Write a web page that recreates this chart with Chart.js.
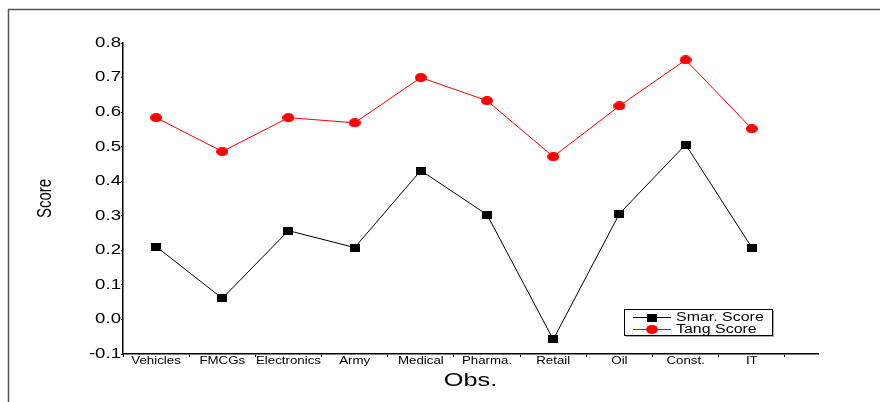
<!DOCTYPE html>
<html>
<head>
<meta charset="utf-8">
<script src="https://cdn.jsdelivr.net/npm/chart.js@4.4.0/dist/chart.umd.min.js"></script>
<style>
html,body{margin:0;padding:0;background:#fff;}
#wrap{width:880px;height:402px;position:relative;}
</style>
</head>
<body>
<div id="wrap"><canvas id="c" width="880" height="402"></canvas></div>
<script>
const categories = ['Vehicles','FMCGs','Electronics','Army','Medical','Pharma.','Retail','Oil','Const.','IT'];
const smarScore = [0.211, 0.061, 0.257, 0.208, 0.431, 0.303, -0.058, 0.306, 0.506, 0.208];
const tangScore = [0.584, 0.486, 0.584, 0.569, 0.700, 0.633, 0.471, 0.618, 0.751, 0.552];
const yTicks = [-0.1, 0.0, 0.1, 0.2, 0.3, 0.4, 0.5, 0.6, 0.7, 0.8];

const FONT = "'Liberation Sans', Arial, sans-serif";
const TEXT_STRETCH = 1.33;

// marker images (stretched like the original figure)
function makeMarker(w, h, color, shape) {
  const c = document.createElement('canvas');
  c.width = w; c.height = h;
  const g = c.getContext('2d');
  g.fillStyle = color;
  if (shape === 'rect') g.fillRect(0, 0, w, h);
  else { g.beginPath(); g.ellipse(w / 2, h / 2, w / 2, h / 2, 0, 0, Math.PI * 2); g.fill(); }
  return c;
}
const squareMarker = makeMarker(10, 8, '#000', 'rect');
const ellipseMarker = makeMarker(12, 9, '#ff0000', 'ellipse');

const stretchPlugin = {
  id: 'stretchText',
  beforeInit(chart) {
    const ctx = chart.ctx;
    if (ctx.__patched) return;
    const orig = ctx.fillText.bind(ctx);
    ctx.fillText = function (text, x, y, maxW) {
      const m = ctx.getTransform();
      const p = m.transformPoint(new DOMPoint(x, y));
      const S = new DOMMatrix().translate(p.x, p.y).scale(TEXT_STRETCH, 1).translate(-p.x, -p.y);
      ctx.setTransform(S.multiply(m));
      orig(text, x, y);
      ctx.setTransform(m);
    };
    ctx.__patched = true;
  }
};

const framePlugin = {
  id: 'frame',
  beforeDraw(chart) {
    const ctx = chart.ctx;
    ctx.save();
    ctx.fillStyle = '#fff';
    ctx.fillRect(0, 0, chart.width, chart.height);
    ctx.strokeStyle = '#555';
    ctx.lineWidth = 1.5;
    ctx.strokeRect(8.5, 9.5, 1000, 1000);
    ctx.restore();
  }
};

const legendPlugin = {
  id: 'boxLegend',
  afterDraw(chart) {
    const ctx = chart.ctx;
    const x0 = 624, y0 = 309, w = 148, h = 26;
    ctx.save();
    ctx.fillStyle = '#aaa';
    ctx.fillRect(x0 + 2, y0 + 2, w, h);
    ctx.fillStyle = '#fff';
    ctx.fillRect(x0, y0, w, h);
    ctx.strokeStyle = '#000';
    ctx.lineWidth = 1;
    ctx.strokeRect(x0 + 0.5, y0 + 0.5, w, h);
    const rows = [317, 329];
    chart.data.datasets.forEach((ds, i) => {
      const y = rows[i];
      ctx.strokeStyle = ds.borderColor;
      ctx.lineWidth = 1;
      ctx.beginPath();
      ctx.moveTo(633, y + 0.5);
      ctx.lineTo(671, y + 0.5);
      ctx.stroke();
      const img = ds.pointStyle;
      ctx.drawImage(img, 652 - img.width / 2, y + 0.5 - img.height / 2);
      ctx.fillStyle = '#000';
      ctx.font = '12px ' + FONT;
      ctx.textBaseline = 'middle';
      ctx.textAlign = 'left';
      ctx.fillText(ds.label, 676, y + 1);
    });
    ctx.restore();
  }
};

const xTickValues = [];
for (let v = 0.5; v <= 11; v += 0.5) xTickValues.push(v);

new Chart(document.getElementById('c'), {
  type: 'line',
  data: {
    datasets: [
      {
        label: 'Smar. Score',
        data: smarScore.map((v, i) => ({x: i + 1, y: v})),
        borderColor: '#000',
        backgroundColor: '#000',
        borderWidth: 1,
        pointStyle: squareMarker,
        pointRadius: 5,
        tension: 0
      },
      {
        label: 'Tang Score',
        data: tangScore.map((v, i) => ({x: i + 1, y: v})),
        borderColor: '#ff0000',
        backgroundColor: '#ff0000',
        borderWidth: 1,
        pointStyle: ellipseMarker,
        pointRadius: 5,
        tension: 0
      }
    ]
  },
  options: {
    responsive: false,
    animation: false,
    events: [],
    layout: {padding: {left: 0, right: 62, top: 43, bottom: 0}},
    plugins: {legend: {display: false}, tooltip: {enabled: false}},
    scales: {
      x: {
        type: 'linear',
        min: 0.5,
        max: 11,
        afterBuildTicks(scale) { scale.ticks = xTickValues.map(v => ({value: v})); },
        afterFit(scale) { scale.height = 48; },
        border: {display: true, color: '#000', width: 1.5},
        grid: {
          drawOnChartArea: false,
          drawTicks: true,
          tickLength: 3,
          tickColor: (c) => (c.tick && Number.isInteger(c.tick.value)) ? 'rgba(0,0,0,0)' : '#000'
        },
        ticks: {
          autoSkip: false,
          maxRotation: 0,
          padding: -2,
          color: '#000',
          font: {family: FONT, size: 10},
          callback: (v) => (Number.isInteger(v) && v >= 1 && v <= 10) ? categories[v - 1] : ''
        },
        title: {
          display: true,
          text: 'Obs.',
          color: '#000',
          font: {family: FONT, size: 19},
          padding: {top: 0, bottom: 10}
        }
      },
      y: {
        type: 'linear',
        min: -0.1,
        max: 0.8,
        afterBuildTicks(scale) { scale.ticks = yTicks.map(v => ({value: v})); },
        afterFit(scale) { scale.width = 123; },
        border: {display: true, color: '#000', width: 1.5},
        grid: {drawOnChartArea: false, drawTicks: true, tickLength: 2, tickColor: '#000'},
        ticks: {
          padding: 0,
          color: '#000',
          font: {family: FONT, size: 14},
          callback: (v) => v.toFixed(1)
        },
        title: {
          display: true,
          text: 'Score',
          color: '#000',
          font: {family: FONT, size: 15},
          padding: {top: 36, bottom: 0}
        }
      }
    }
  },
  plugins: [stretchPlugin, framePlugin, legendPlugin]
});
</script>
</body>
</html>
